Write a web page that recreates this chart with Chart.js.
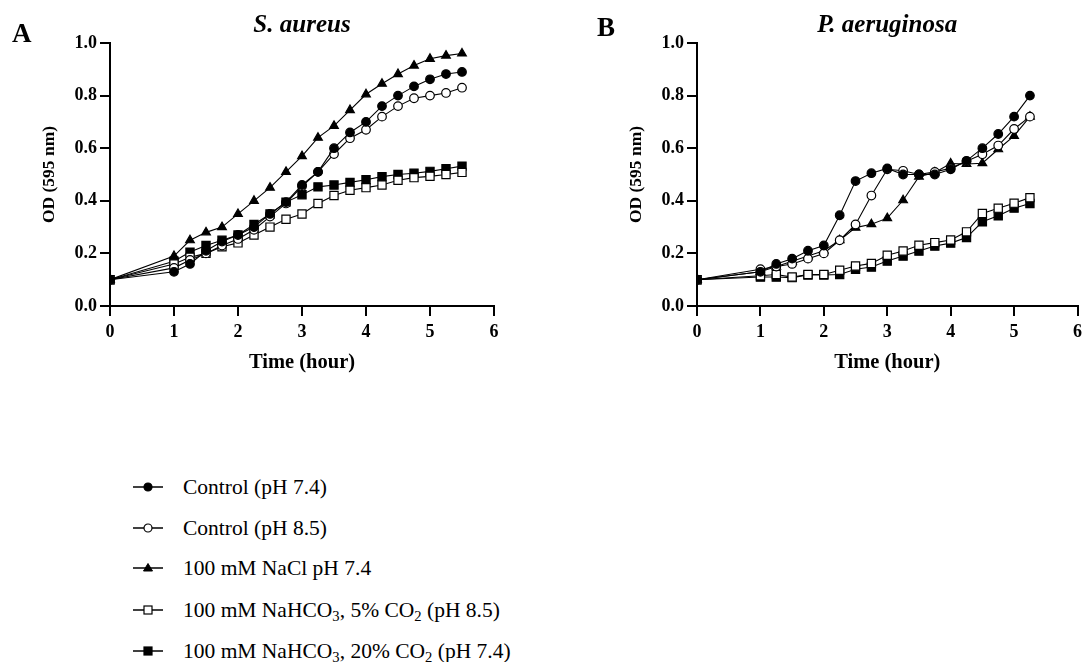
<!DOCTYPE html>
<html>
<head>
<meta charset="utf-8">
<script src="https://cdn.jsdelivr.net/npm/chart.js@4.4.1/dist/chart.umd.min.js"></script>
<style>
html, body { margin: 0; padding: 0; background: #fff; overflow: hidden; }
#page { position: relative; width: 1088px; height: 662px; font-family: 'Liberation Serif', 'Times New Roman', serif; color: #000; }
#page canvas { position: absolute; top: 0; }
.letter { position: absolute; font-weight: bold; font-size: 27px; line-height: 27px; }
.row { position: absolute; left: 133px; height: 20px; width: 420px; white-space: nowrap; }
.row svg { position: absolute; left: 0; top: 0; }
.row span { position: absolute; left: 50px; top: 0; font-size: 21.5px; line-height: 21px; }
.row sub { font-size: 0.68em; vertical-align: -0.25em; line-height: 0; }
</style>
</head>
<body>
<div id="page">
  <canvas id="chartA" width="544" height="390" style="left:0"></canvas>
  <canvas id="chartB" width="501" height="390" style="left:587px"></canvas>
  <div class="letter" style="left:12px;top:20px">A</div>
  <div class="letter" style="left:597px;top:14px">B</div>
  <div id="legend"></div>
</div>
<script>
// sampling times (hours)
const timeA = [0, 1, 1.25, 1.5, 1.75, 2, 2.25, 2.5, 2.75, 3, 3.25, 3.5, 3.75, 4, 4.25, 4.5, 4.75, 5, 5.25, 5.5];
const timeB = [0, 1, 1.25, 1.5, 1.75, 2, 2.25, 2.5, 2.75, 3, 3.25, 3.5, 3.75, 4, 4.25, 4.5, 4.75, 5, 5.25];

// S. aureus OD595
const aControl74 = [0.10, 0.13, 0.16, 0.21, 0.245, 0.27, 0.30, 0.35, 0.395, 0.46, 0.51, 0.60, 0.66, 0.70, 0.76, 0.80, 0.835, 0.862, 0.882, 0.89];
const aControl85 = [0.10, 0.145, 0.175, 0.20, 0.23, 0.255, 0.29, 0.34, 0.39, 0.455, 0.51, 0.578, 0.638, 0.67, 0.72, 0.76, 0.79, 0.80, 0.81, 0.83];
const aNaCl      = [0.10, 0.19, 0.25, 0.28, 0.30, 0.35, 0.40, 0.45, 0.51, 0.57, 0.64, 0.685, 0.745, 0.805, 0.845, 0.882, 0.914, 0.94, 0.952, 0.96];
const aBic5      = [0.10, 0.16, 0.185, 0.20, 0.225, 0.24, 0.27, 0.30, 0.33, 0.35, 0.39, 0.42, 0.44, 0.45, 0.46, 0.478, 0.488, 0.493, 0.50, 0.508];
const aBic20     = [0.10, 0.17, 0.205, 0.23, 0.25, 0.27, 0.31, 0.35, 0.395, 0.423, 0.453, 0.46, 0.47, 0.48, 0.492, 0.50, 0.505, 0.512, 0.522, 0.532];

// P. aeruginosa OD595
const bControl74 = [0.10, 0.13, 0.16, 0.18, 0.21, 0.23, 0.345, 0.475, 0.505, 0.523, 0.50, 0.50, 0.50, 0.52, 0.552, 0.60, 0.654, 0.72, 0.80];
const bControl85 = [0.10, 0.14, 0.15, 0.16, 0.18, 0.20, 0.25, 0.31, 0.42, 0.52, 0.514, 0.50, 0.51, 0.524, 0.55, 0.577, 0.61, 0.673, 0.72];
const bNaCl      = [0.10, 0.13, 0.15, 0.17, 0.19, 0.21, 0.25, 0.298, 0.311, 0.334, 0.402, 0.492, 0.508, 0.542, 0.54, 0.543, 0.596, 0.647, 0.72];
const bBic5      = [0.10, 0.115, 0.12, 0.11, 0.12, 0.12, 0.136, 0.152, 0.162, 0.193, 0.209, 0.231, 0.241, 0.251, 0.282, 0.352, 0.372, 0.391, 0.412];
const bBic20     = [0.10, 0.11, 0.11, 0.108, 0.118, 0.118, 0.12, 0.14, 0.148, 0.171, 0.19, 0.209, 0.228, 0.239, 0.26, 0.32, 0.343, 0.372, 0.39];

const seriesLabels = [
    'Control (pH 7.4)',
    'Control (pH 8.5)',
    '100 mM NaCl pH 7.4',
    '100 mM NaHCO<sub>3</sub>, 5% CO<sub>2</sub> (pH 8.5)',
    '100 mM NaHCO<sub>3</sub>, 20% CO<sub>2</sub> (pH 7.4)'
];

const FONT = "'Liberation Serif', 'Times New Roman', serif";
const markers = [
    { style: 'circle', fill: '#000', r: 4.3 },
    { style: 'circle', fill: '#fff', r: 4.3 },
    { style: 'triangle', fill: '#000', r: 5 },
    { style: 'rect', fill: '#fff', r: 5.8 },
    { style: 'rect', fill: '#000', r: 5.8 }
];

function buildDatasets(time, seriesList) {
    return seriesList.map((vals, i) => ({
        label: seriesLabels[i].replace(/<\/?sub>/g, ''),
        data: vals.map((v, j) => ({ x: time[j], y: v })),
        borderColor: '#000',
        borderWidth: 1.1,
        pointStyle: markers[i].style,
        pointRadius: markers[i].r,
        pointBackgroundColor: markers[i].fill,
        pointBorderColor: '#000',
        pointBorderWidth: 1.2,
        tension: 0,
        fill: false
    }));
}

function makePanel(canvasId, titleText, time, seriesList, rightPad) {
    const ctx = document.getElementById(canvasId).getContext('2d');
    return new Chart(ctx, {
        type: 'line',
        data: { datasets: buildDatasets(time, seriesList) },
        options: {
            responsive: false,
            animation: false,
            layout: { padding: { left: 35, right: rightPad, top: 0, bottom: 0 } },
            plugins: {
                legend: { display: false },
                tooltip: { enabled: false },
                title: {
                    display: true, text: titleText, fullSize: false, color: '#000',
                    font: { family: FONT, size: 25, weight: 'bold', style: 'italic' },
                    padding: { top: 10.5, bottom: 2.5 }
                }
            },
            scales: {
                x: {
                    type: 'linear', min: 0, max: 6,
                    ticks: { stepSize: 1, color: '#000', padding: 6, font: { family: FONT, size: 18, weight: 'bold' } },
                    grid: { drawOnChartArea: false, drawTicks: true, tickLength: 10, color: '#000', lineWidth: 2 },
                    border: { color: '#000', width: 2 },
                    title: { display: true, text: 'Time (hour)', color: '#000', font: { family: FONT, size: 20.5, weight: 'bold' }, padding: { top: 0, bottom: 14.7 } },
                    afterFit: s => { s.height = 84; }
                },
                y: {
                    min: 0, max: 1,
                    ticks: { stepSize: 0.2, color: '#000', padding: 3, callback: v => v.toFixed(1), font: { family: FONT, size: 18, weight: 'bold' } },
                    grid: { drawOnChartArea: false, drawTicks: true, tickLength: 10, color: '#000', lineWidth: 2 },
                    border: { color: '#000', width: 2 },
                    title: { display: true, text: 'OD (595 nm)', color: '#000', font: { family: FONT, size: 17.5, weight: 'bold' }, padding: { top: 4, bottom: 0 } },
                    afterFit: s => { s.width = 75; }
                }
            }
        }
    });
}

makePanel('chartA', 'S. aureus', timeA, [aControl74, aControl85, aNaCl, aBic5, aBic20], 50);
makePanel('chartB', 'P. aeruginosa', timeB, [bControl74, bControl85, bNaCl, bBic5, bBic20], 7);

// legend below the panels
function markerSvg(m) {
    let shape;
    if (m.style === 'circle') {
        shape = `<circle cx="15" cy="10" r="4" fill="${m.fill}" stroke="#000" stroke-width="1.2"/>`;
    } else if (m.style === 'triangle') {
        shape = `<polygon points="15,5.5 19.5,13 10.5,13" fill="#000" stroke="#000" stroke-width="1"/>`;
    } else {
        shape = `<rect x="11" y="6" width="8" height="8" fill="${m.fill}" stroke="#000" stroke-width="1.2"/>`;
    }
    return `<svg width="32" height="20"><line x1="0" y1="10" x2="30" y2="10" stroke="#000" stroke-width="1.5"/>${shape}</svg>`;
}

const legendRowsY = [487, 528, 568, 610, 651];
const legendEl = document.getElementById('legend');
legendEl.innerHTML = seriesLabels.map((lbl, i) =>
    `<div class="row" style="top:${legendRowsY[i] - 10}px">${markerSvg(markers[i])}<span>${lbl}</span></div>`
).join('');
</script>
</body>
</html>
